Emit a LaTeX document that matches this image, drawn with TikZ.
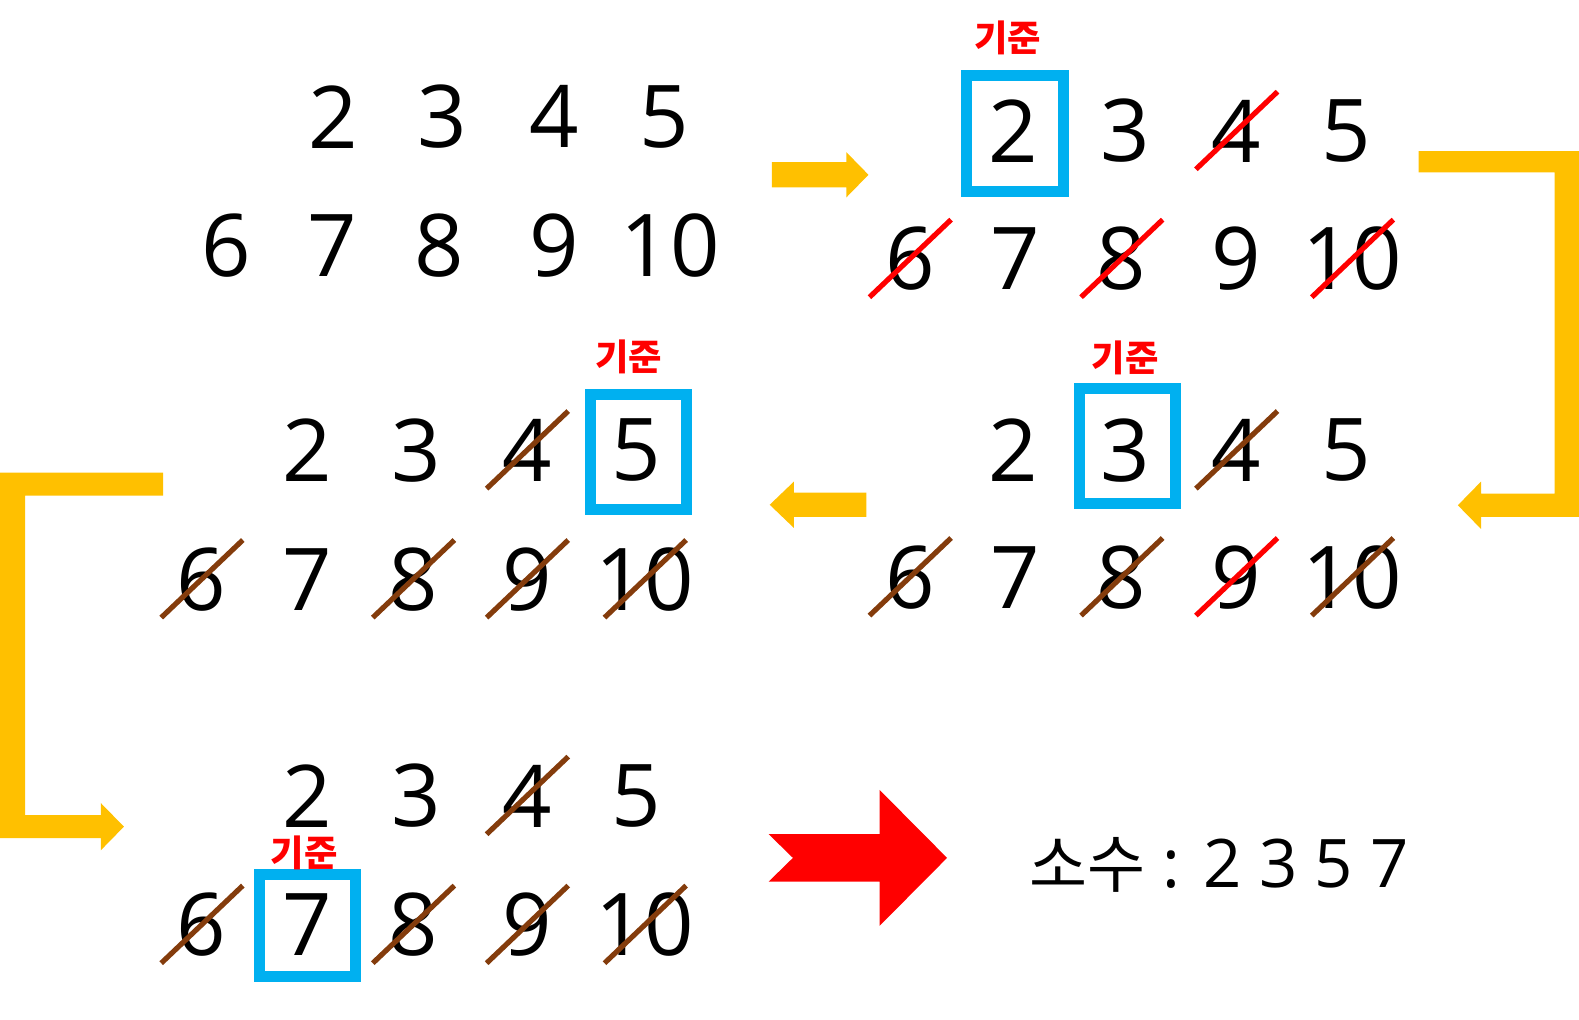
\documentclass[tikz,border=0pt]{standalone}
\usepackage{fontspec}
\setmainfont{Open Sans}
\newfontfamily\krfont{Noto Sans CJK KR}
\definecolor{gold}{HTML}{FFC000}
\definecolor{boxblue}{HTML}{00B0F0}
\definecolor{strikebrown}{HTML}{843C0C}
\definecolor{pured}{HTML}{FF0000}
\tikzset{
  num/.style={inner sep=0pt, font=\fontsize{86.6}{90}\selectfont},
  kijun/.style={inner sep=0pt, text=pured, font=\krfont\bfseries\fontsize{36.3}{40}\selectfont},
  selbox/.style={draw=boxblue, line width=11pt, inner sep=0pt, minimum width=97pt, minimum height=116pt},
  strikeR/.style={draw=pured, line width=5.2pt},
  strikeB/.style={draw=strikebrown, line width=5.2pt},
  blockarrow/.style={fill=gold},
}
\newcommand{\strikeout}[2]{\draw[#1] ([shift={(-40,38)}]#2.center) -- ([shift={(41,-39)}]#2.center);}
\begin{document}
\begin{tikzpicture}[x=1.0075pt,y=-1.0075pt]
\useasboundingbox (0,0) rectangle (1567.25,1012.4);
% ---------- panel 1 ----------
\foreach \n/\x in {2/331,3/439,4/550,5/659} \node[num] (a\n) at (\x,116) {\n};
\foreach \n/\x in {6/225,7/330,8/436,9/550,10/665} \node[num] (a\n) at (\x,244) {\n};
% ---------- panel 2 ----------
\foreach \n/\x in {2/1006,3/1117,4/1227,5/1336} \node[num] (b\n) at (\x,130) {\n};
\foreach \n/\x in {6/903,7/1008,8/1113,9/1227,10/1342} \node[num] (b\n) at (\x,257) {\n};
\node[selbox] (bbox) at (1007,132.5) {};
\node[kijun] (blab) at (1000,38) {기준};
\foreach \n in {4,6,8,10} {\strikeout{strikeR}{b\n}}
% ---------- panel 3 ----------
\foreach \n/\x in {2/1006,3/1117,4/1227,5/1336} \node[num] (c\n) at (\x,447) {\n};
\foreach \n/\x in {6/903,7/1008,8/1113,9/1227,10/1342} \node[num] (c\n) at (\x,573) {\n};
\node[selbox, minimum width=96pt, minimum height=115pt] (cbox) at (1119.5,443) {};
\node[kijun] (clab) at (1117,355) {기준};
\foreach \n in {4,6,8,10} {\strikeout{strikeB}{c\n}}
\strikeout{strikeR}{c9}
% ---------- panel 4 ----------
\foreach \n/\x in {2/305,3/413,4/523,5/632} \node[num] (d\n) at (\x,447) {\n};
\foreach \n/\x in {6/200,7/305,8/410,9/523,10/640} \node[num] (d\n) at (\x,575) {\n};
\node[selbox, minimum width=96pt, minimum height=115pt] (dbox) at (633.5,449) {};
\node[kijun] (dlab) at (624,354) {기준};
\foreach \n in {4,6,8,9,10} {\strikeout{strikeB}{d\n}}
% ---------- panel 5 ----------
\foreach \n/\x in {2/305,3/413,4/523,5/632} \node[num] (e\n) at (\x,790) {\n};
\foreach \n/\x in {6/200,7/305,8/410,9/523,10/640} \node[num] (e\n) at (\x,918) {\n};
\node[selbox, minimum width=96pt, minimum height=102pt] (ebox) at (305.5,919) {};
\node[kijun] (elab) at (302,847) {기준};
\foreach \n in {4,6,8,9,10} {\strikeout{strikeB}{e\n}}
% ---------- result ----------
\node[inner sep=0pt, font=\fontsize{67}{72}\selectfont] (result) at (1210,858) {{\krfont\fontsize{63}{68}\selectfont 소수} : 2 3 5 7};
% ---------- arrows ----------
\fill[blockarrow] (766,161) -- (840,161) -- (840,151) -- (862,173.5) -- (840,196) -- (840,186) -- (766,186) -- cycle;
\fill[blockarrow] (1408,150) -- (1567,150) -- (1567,513) -- (1470,513) -- (1470,525) -- (1447,501.5) -- (1470,478) -- (1470,490) -- (1543,490) -- (1543,171) -- (1408,171) -- cycle;
\fill[blockarrow] (860,489) -- (788,489) -- (788,478) -- (764,501) -- (788,524) -- (788,513) -- (860,513) -- cycle;
\fill[blockarrow] (162,469) -- (0,469) -- (0,832) -- (100,832) -- (100,844) -- (123,820.5) -- (100,797) -- (100,809) -- (25,809) -- (25,492) -- (162,492) -- cycle;
\fill[pured] (763,828) -- (873,828) -- (873,784) -- (940,851.5) -- (873,919) -- (873,875) -- (763,875) -- (787,851.5) -- cycle;
\end{tikzpicture}
\end{document}
